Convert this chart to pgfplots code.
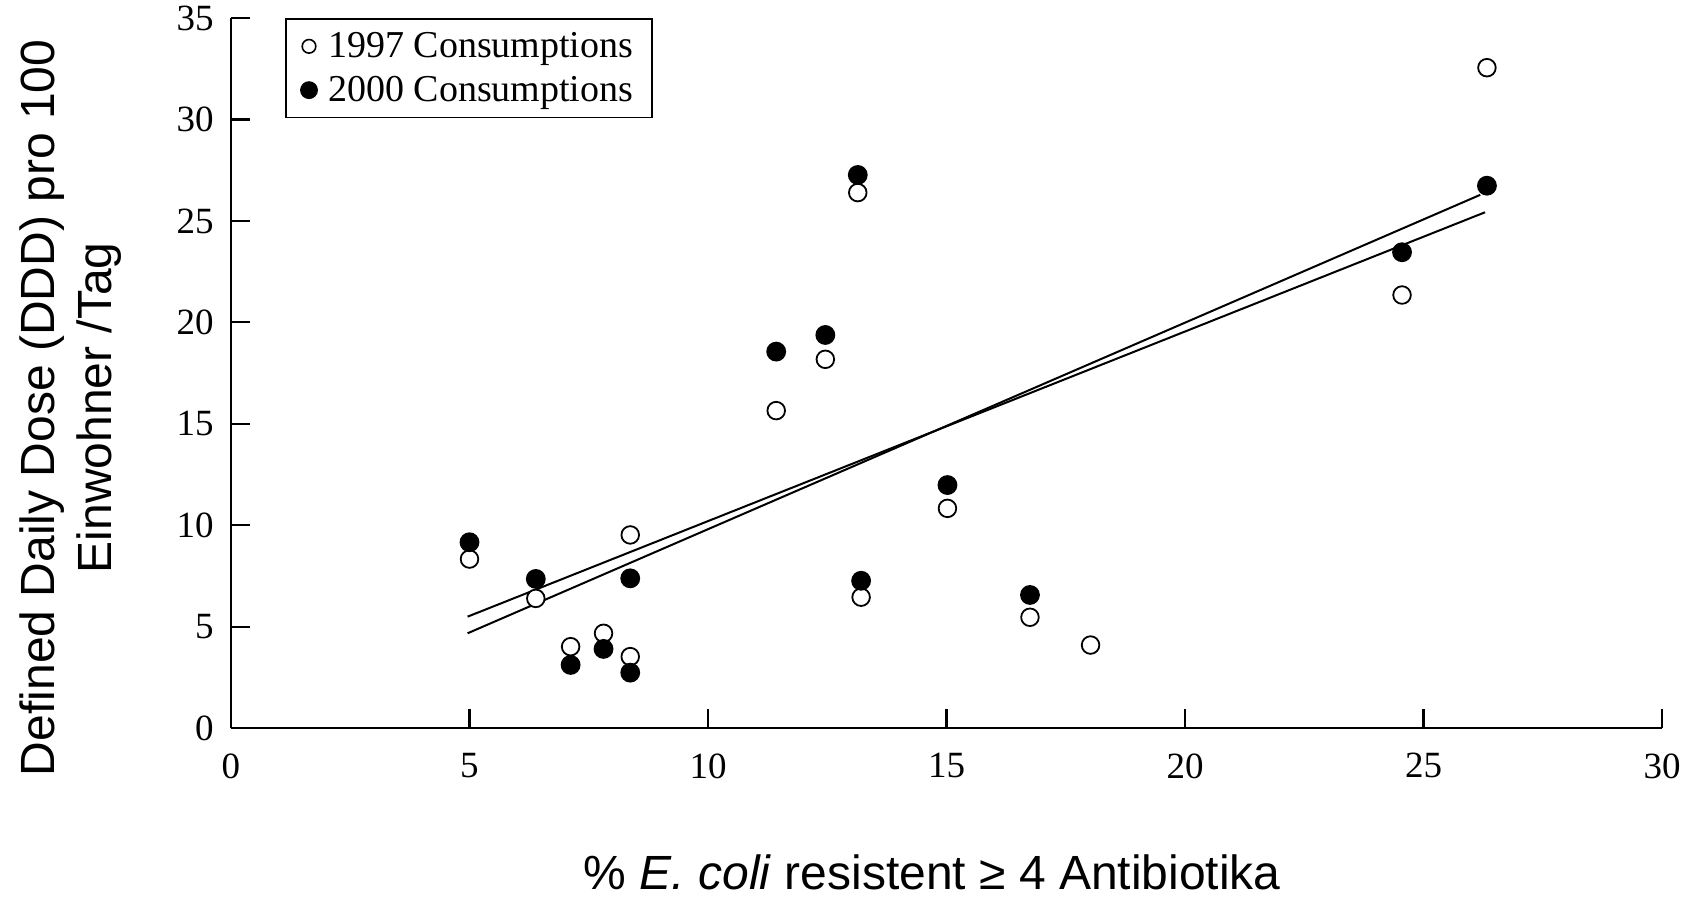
\documentclass[border=0pt]{standalone}
\usepackage{fontspec}
\setmainfont{Liberation Serif}
\newfontfamily\sansfont{Liberation Sans}
\usepackage{pgfplots}
\pgfplotsset{compat=1.18}
\begin{document}
\begin{tikzpicture}
\useasboundingbox (-115.5pt,-86pt) rectangle (731.5pt,364pt);
\begin{axis}[
  scale only axis, width=715.5pt, height=354.9pt,
  xmin=0, xmax=30, ymin=0, ymax=35,
  axis x line=bottom, axis y line=left,
  axis line style={-, line width=1.1pt, black},
  xtick={0,5,...,30}, ytick={0,5,...,35},
  tick align=inside, major tick length=9.5pt,
  tick style={line width=1.1pt, black},
  /pgf/number format/assume math mode=true,
  tick label style={font=\fontsize{18.5}{22}\selectfont},
  xticklabel style={inner sep=0pt, yshift=-12.5pt, anchor=north},
  yticklabel style={inner sep=0pt, xshift=-8.5pt, anchor=east},
  clip=false,
  xlabel={\% \textit{E. coli} resistent ≥ 4 Antibiotika},
  xlabel style={font=\sansfont\fontsize{24}{28.5}\selectfont, at={(axis description cs:0.49,-0.2275)}, anchor=base},
  ylabel={Defined Daily Dose (DDD) pro 100\\Einwohner /Tag},
  ylabel style={font=\sansfont\fontsize{24}{28.5}\selectfont, align=center, at={(axis description cs:-0.112,0.451)}, anchor=center},
  legend style={at={(axis description cs:0.038,1)}, anchor=north west, draw=black, line width=0.85pt,
    font=\fontsize{19}{21.7}\selectfont, inner xsep=7.2pt, inner ysep=4.6pt, row sep=3.8pt},
  legend cell align=left,
  legend image code/.code={\draw[mark repeat=2,mark phase=2,#1] plot coordinates {(0pt,0pt)(5pt,0pt)(10pt,0pt)}; \path (1.6pt,0pt) (12.2pt,0pt);},
]
\addlegendimage{only marks, mark=*, mark size=3.4pt, mark options={draw=black, fill=white, line width=0.8pt}}
\addlegendentry{1997 Consumptions}
\addlegendimage{only marks, mark=*, mark size=4.2pt, mark options={draw=black, fill=black, line width=0.5pt}}
\addlegendentry{2000 Consumptions}

\addplot[black, line width=1pt, forget plot] coordinates {(4.96,5.49) (26.29,25.43)};
\addplot[black, line width=1pt, forget plot] coordinates {(4.96,4.67) (26.19,26.29)};

\addplot[only marks, mark=*, mark size=4.4pt, mark options={draw=black, fill=white, line width=0.9pt}, forget plot] coordinates {
(5.0,8.33) (6.39,6.39) (7.12,4.01) (7.81,4.67) (8.37,3.52) (8.37,9.52) (11.43,15.65) (12.46,18.18) (13.14,26.4) (13.21,6.45) (15.02,10.83) (16.75,5.46) (18.02,4.09) (24.55,21.35) (26.33,32.56)
};
\addplot[only marks, mark=*, mark size=4.5pt, mark options={draw=black, fill=black, line width=0.9pt}, forget plot] coordinates {
(5.0,9.16) (6.39,7.35) (7.12,3.11) (7.81,3.9) (8.37,2.73) (8.37,7.38) (11.43,18.56) (12.46,19.38) (13.14,27.27) (13.21,7.26) (15.02,11.98) (16.75,6.56) (24.55,23.46) (26.33,26.74)
};
\end{axis}
\end{tikzpicture}
\end{document}
